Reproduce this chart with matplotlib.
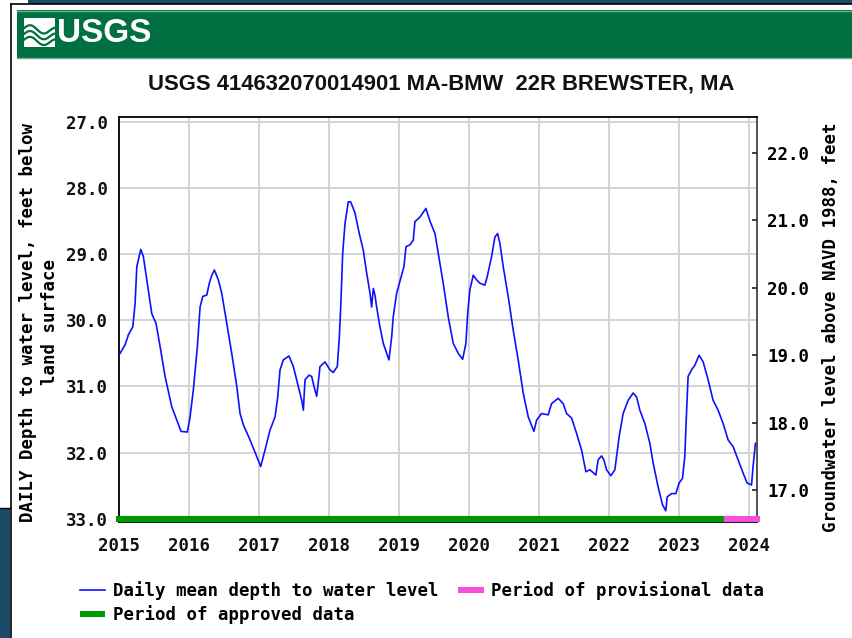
import numpy as np
import matplotlib
matplotlib.use("Agg")
import matplotlib.pyplot as plt
from matplotlib import font_manager
from matplotlib.patches import Rectangle
from matplotlib.lines import Line2D

# ---------------- data ----------------
years = [2015.011, 2015.083, 2015.130, 2015.193, 2015.226, 2015.250, 2015.307, 2015.344,
         2015.393, 2015.464, 2015.525, 2015.583, 2015.654, 2015.750, 2015.821, 2015.882,
         2015.972, 2016.011, 2016.058, 2016.115, 2016.154, 2016.192, 2016.249, 2016.286,
         2016.321, 2016.358, 2016.415, 2016.463, 2016.535, 2016.606, 2016.678, 2016.725,
         2016.772, 2016.868, 2016.963, 2017.020, 2017.082, 2017.153, 2017.225, 2017.263,
         2017.296, 2017.343, 2017.424, 2017.486, 2017.557, 2017.606, 2017.629, 2017.653,
         2017.711, 2017.748, 2017.781, 2017.820, 2017.867, 2017.938, 2018.010, 2018.057,
         2018.114, 2018.143, 2018.163, 2018.191, 2018.224, 2018.271, 2018.305, 2018.367,
         2018.428, 2018.485, 2018.534, 2018.581, 2018.605, 2018.628, 2018.652, 2018.676,
         2018.723, 2018.771, 2018.852, 2018.891, 2018.913, 2018.962, 2019.019, 2019.066,
         2019.095, 2019.152, 2019.199, 2019.223, 2019.295, 2019.380, 2019.437, 2019.509,
         2019.556, 2019.627, 2019.699, 2019.770, 2019.841, 2019.904, 2019.951, 2019.976,
         2020.008, 2020.056, 2020.104, 2020.151, 2020.222, 2020.256, 2020.318, 2020.366,
         2020.404, 2020.437, 2020.484, 2020.555, 2020.627, 2020.698, 2020.770, 2020.841,
         2020.922, 2020.961, 2021.032, 2021.126, 2021.175, 2021.269, 2021.341, 2021.389,
         2021.461, 2021.532, 2021.603, 2021.665, 2021.722, 2021.808, 2021.840, 2021.889,
         2021.922, 2021.960, 2022.022, 2022.079, 2022.140, 2022.197, 2022.269, 2022.340,
         2022.389, 2022.436, 2022.507, 2022.579, 2022.626, 2022.697, 2022.760, 2022.807,
         2022.826, 2022.889, 2022.950, 2022.997, 2023.045, 2023.078, 2023.102, 2023.125,
         2023.174, 2023.221, 2023.282, 2023.340, 2023.411, 2023.482, 2023.554, 2023.625,
         2023.697, 2023.768, 2023.840, 2023.911, 2023.968, 2024.031, 2024.053, 2024.087]
depth = [30.50, 30.37, 30.22, 30.10, 29.74, 29.19, 28.93, 29.04,
         29.39, 29.90, 30.05, 30.40, 30.85, 31.31, 31.51, 31.68,
         31.69, 31.46, 31.05, 30.40, 29.80, 29.64, 29.62, 29.44,
         29.32, 29.24, 29.39, 29.59, 30.05, 30.50, 31.00, 31.41,
         31.58, 31.81, 32.06, 32.21, 31.96, 31.66, 31.46, 31.16,
         30.75, 30.60, 30.54, 30.70, 31.00, 31.21, 31.36, 30.90,
         30.83, 30.85, 31.00, 31.15, 30.70, 30.63, 30.75, 30.79,
         30.70, 30.25, 29.80, 28.99, 28.54, 28.21, 28.21, 28.38,
         28.69, 28.94, 29.29, 29.59, 29.80, 29.52, 29.62, 29.80,
         30.10, 30.35, 30.60, 30.25, 29.95, 29.59, 29.37, 29.19,
         28.89, 28.86, 28.79, 28.51, 28.44, 28.31, 28.50, 28.69,
         28.99, 29.44, 29.95, 30.35, 30.50, 30.59, 30.35, 29.90,
         29.54, 29.32, 29.39, 29.44, 29.47, 29.34, 29.04, 28.74,
         28.69, 28.84, 29.19, 29.64, 30.15, 30.60, 31.10, 31.46,
         31.68, 31.51, 31.41, 31.43, 31.26, 31.18, 31.26, 31.41,
         31.48, 31.71, 31.96, 32.29, 32.26, 32.34, 32.11, 32.05,
         32.11, 32.26, 32.35, 32.26, 31.76, 31.41, 31.21, 31.10,
         31.16, 31.36, 31.56, 31.86, 32.16, 32.52, 32.79, 32.88,
         32.67, 32.62, 32.62, 32.46, 32.39, 32.06, 31.41, 30.85,
         30.75, 30.68, 30.53, 30.63, 30.90, 31.21, 31.36, 31.56,
         31.81, 31.91, 32.11, 32.31, 32.46, 32.49, 32.21, 31.86]

approved_period = [2015.0, 2023.68]
provisional_period = [2023.68, 2024.105]
period_depth = 33.0

x_ticks = [2015, 2016, 2017, 2018, 2019, 2020, 2021, 2022, 2023, 2024]
left_ticks = [27.0, 28.0, 29.0, 30.0, 31.0, 32.0, 33.0]
right_ticks = [17.0, 18.0, 19.0, 20.0, 21.0, 22.0]

title = "USGS 414632070014901 MA-BMW  22R BREWSTER, MA"
left_label = "DAILY Depth to water level, feet below\nland surface"
right_label = "Groundwater level above NAVD 1988, feet"
legend_labels = ["Daily mean depth to water level", "Period of approved data",
                 "Period of provisional data"]

# ---------------- fonts ----------------
avail = {f.name for f in font_manager.fontManager.ttflist}
def pick(*names):
    for n in names:
        if n in avail:
            return n
    return "DejaVu Sans"
narrow = pick("Liberation Sans Narrow", "Liberation Sans", "Arial")
mono = pick("DejaVu Sans Mono", "Liberation Mono")

W, H = 853, 638
fig = plt.figure(figsize=(W / 100, H / 100), dpi=100, facecolor="white")

def fx(px):
    return px / W
def fy(py):
    return 1 - py / H

def rect(x0, y0, x1, y1, color, z=0):
    fig.add_artist(Rectangle((fx(x0), fy(y1)), fx(x1) - fx(x0), fy(y0) - fy(y1),
                             transform=fig.transFigure, facecolor=color,
                             edgecolor="none", zorder=z))

navy = "#1b4a68"
rect(28, 0, W, 3.5, navy)
rect(0, 508, 10.5, H, navy)
# frame lines
fig.add_artist(Line2D([fx(11), fx(11)], [fy(3.5), fy(H)], transform=fig.transFigure,
                      color="black", lw=1.2))
fig.add_artist(Line2D([fx(11), fx(W)], [fy(3.8), fy(3.8)], transform=fig.transFigure,
                      color="black", lw=1.2))
fig.add_artist(Line2D([fx(0), fx(10.5)], [fy(508), fy(508)], transform=fig.transFigure,
                      color="black", lw=1.0))
# green banner
rect(17, 10, W, 58, "#006f41")
fig.add_artist(Line2D([fx(17), fx(W)], [fy(10.5), fy(10.5)], transform=fig.transFigure,
                      color="#6fae92", lw=1.0))
fig.add_artist(Line2D([fx(17), fx(W)], [fy(57.5), fy(57.5)], transform=fig.transFigure,
                      color="#6fae92", lw=1.0))
# logo icon
icon = fig.add_axes([fx(24), fy(47), fx(55) - fx(24), fy(18) - fy(47)])
icon.set_xlim(0, 1)
icon.set_ylim(0, 1)
icon.axis("off")
icon.add_patch(Rectangle((0, 0), 1, 1, facecolor="white", edgecolor="none"))
tt = np.linspace(0, 1, 50)
for off in [0.25, 0.45, 0.65]:
    icon.plot(tt, off + 0.12 * np.sin(2 * np.pi * tt * 1.2) - 0.1 * tt, color="#006f41", lw=1.6)
fig.text(fx(57), fy(33), "USGS", color="white", fontsize=24, fontweight="bold",
         family=narrow, ha="left", va="center")

# title
fig.text(fx(441), fy(84), title, fontsize=15.8, fontweight="bold", family=narrow,
         ha="center", va="center", color="#111111")

# ---------------- axes ----------------
x0p, x1p, y0p, y1p = 119.3, 756.7, 116.7, 521.7
ax = fig.add_axes([fx(x0p), fy(y1p), fx(x1p) - fx(x0p), fy(y0p) - fy(y1p)])
ax.set_xlim(2015.0, 2024.105)
ax.set_ylim(33.045, 26.924)
ax.set_xticks(x_ticks)
ax.set_xticklabels([str(v) for v in x_ticks])
ax.set_yticks(left_ticks)
ax.set_yticklabels([f"{v:.1f}" for v in left_ticks])
ax.grid(True, color="#d4d4d4", lw=1.4)
ax.set_axisbelow(True)
for lab in ax.get_xticklabels() + ax.get_yticklabels():
    lab.set_fontfamily(mono)
    lab.set_fontsize(12.5)
    lab.set_fontweight("bold")
ax.tick_params(axis="both", length=0, colors="#111111")
ax.tick_params(axis="y", pad=8)
ax.tick_params(axis="x", pad=11)
for s in ["left", "bottom", "top"]:
    ax.spines[s].set_color("black")
    ax.spines[s].set_linewidth(1.3)
ax.spines["right"].set_color("#444444")
ax.spines["right"].set_linewidth(1.3)

ax.plot(years, depth, color="#1010ff", lw=1.2, zorder=3)
ax.plot(approved_period, [period_depth, period_depth], color="#009a00", lw=4.4,
        solid_capstyle="projecting", clip_on=False, zorder=4)
ax.plot(provisional_period, [period_depth, period_depth], color="#f54fdc", lw=4.4,
        solid_capstyle="projecting", clip_on=False, zorder=4)

ax2 = ax.twinx()
ax2.set_ylim(16.53, 22.534)
ax2.set_yticks(right_ticks)
ax2.set_yticklabels([f"{v:.1f}" for v in right_ticks])
for lab in ax2.get_yticklabels():
    lab.set_fontfamily(mono)
    lab.set_fontsize(12.5)
    lab.set_fontweight("bold")
ax2.tick_params(axis="y", direction="in", length=3.5, width=1.2, color="#222222", pad=7.5)
for s in ax2.spines.values():
    s.set_visible(False)

fig.text(fx(39), fy(322), left_label, rotation=90, family=mono, fontsize=12.5,
         fontweight="bold", ha="center", va="center", multialignment="center",
         linespacing=1.25)
fig.text(fx(831), fy(327), right_label, rotation=90, family=mono, fontsize=12.5,
         fontweight="bold", ha="center", va="center")

handles = [Line2D([], [], color="#1010ff", lw=1.2),
           Line2D([], [], color="#009a00", lw=4.4, solid_capstyle="butt"),
           Line2D([], [], color="#f54fdc", lw=4.4, solid_capstyle="butt")]
leg = fig.legend(handles, legend_labels, ncol=2, loc="upper left",
                 bbox_to_anchor=(fx(80), fy(581.5)), bbox_transform=fig.transFigure,
                 frameon=False, borderpad=0, borderaxespad=0, handlelength=1.45,
                 handletextpad=0.45, columnspacing=1.15, labelspacing=0.25,
                 prop=dict(family=mono, size=12.5, weight="bold"))

fig.savefig("out.png", dpi=100, facecolor="white")
